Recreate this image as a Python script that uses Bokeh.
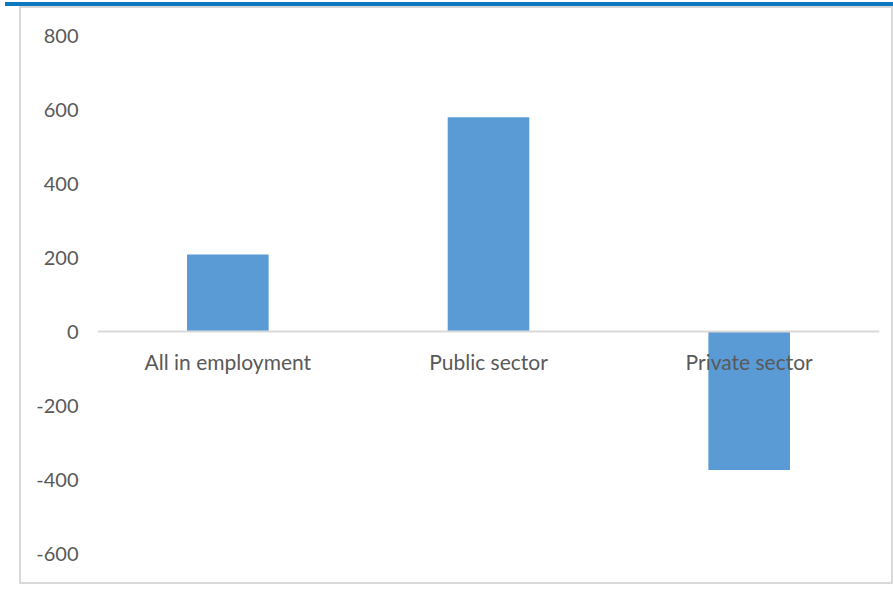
from bokeh.plotting import figure
from bokeh.models import ColumnDataSource, FixedTicker, Span, InlineStyleSheet
from bokeh.core.properties import value
from bokeh.embed import file_html
from bokeh.resources import INLINE

categories = ["All in employment", "Public sector", "Private sector"]
values = [208, 579, -374]
y_ticks = [-600, -400, -200, 0, 200, 400, 600, 800]
y_tick_labels = ["-600", "-400", "-200", "0", "200", "400", "600", "800"]

FONT = "Lato"
TEXT_COLOR = "#595959"
BAR_COLOR = "#5B9BD5"

source = ColumnDataSource(data=dict(cat=categories, val=values, zero=[0] * len(categories)))

accent = InlineStyleSheet(css="""
:host { position: relative; outline: 2px solid #D9D9D9; }
:host::before {
  content: ''; position: absolute; left: -16px; top: -6px;
  width: 888px; height: 4px; background: #0B78BF; z-index: 5;
}
""")

p = figure(
    x_range=categories,
    y_range=(-600, 800),
    width=870,
    height=574,
    margin=(8, 0, 0, 21),
    output_backend="svg",
    toolbar_location=None,
    min_border_left=76,
    min_border_right=12,
    min_border_top=27,
    min_border_bottom=29,
    stylesheets=[accent],
)
p.outline_line_color = None
p.background_fill_color = "white"
p.border_fill_color = "white"
p.xgrid.visible = False
p.ygrid.visible = False
p.xaxis.visible = False

yaxis = p.yaxis[0]
yaxis.ticker = FixedTicker(ticks=y_ticks)
yaxis.major_label_overrides = dict(zip(y_ticks, y_tick_labels))
yaxis.axis_line_color = None
yaxis.major_tick_line_color = None
yaxis.major_tick_out = 0
yaxis.major_tick_in = 0
yaxis.minor_tick_line_color = None
yaxis.major_label_standoff = 19
yaxis.major_label_text_font = FONT
yaxis.major_label_text_font_size = "20px"
yaxis.major_label_text_color = TEXT_COLOR

p.vbar(x="cat", top="val", width=0.313, source=source, fill_color=BAR_COLOR, line_color=None)

p.add_layout(Span(location=0, dimension="width", line_color="#D9D9D9", line_width=2))

p.text(x="cat", y="zero", text="cat", source=source,
       text_font=value(FONT), text_font_size="21px", text_color=TEXT_COLOR,
       text_align="center", text_baseline="alphabetic", y_offset=30)

open("out.html", "w").write(file_html(p, INLINE))
